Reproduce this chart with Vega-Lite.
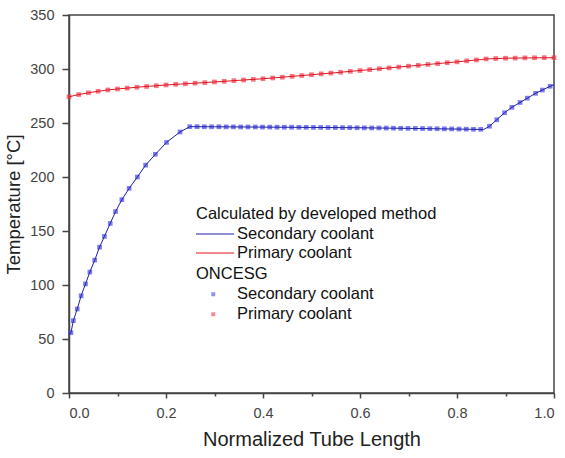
{
  "$schema": "https://vega.github.io/schema/vega-lite/v6.json",
  "width": 485,
  "height": 378,
  "autosize": {"type": "none"},
  "padding": {"left": 69, "top": 15, "right": 11, "bottom": 65},
  "background": "white",
  "datasets": {
    "calc": [
      {"x": 0.0, "t": 54.5, "series": "Secondary coolant"},
      {"x": 0.004, "t": 55.8, "series": "Secondary coolant"},
      {"x": 0.009, "t": 67, "series": "Secondary coolant"},
      {"x": 0.017, "t": 77.8, "series": "Secondary coolant"},
      {"x": 0.025, "t": 90, "series": "Secondary coolant"},
      {"x": 0.034, "t": 101, "series": "Secondary coolant"},
      {"x": 0.043, "t": 112, "series": "Secondary coolant"},
      {"x": 0.053, "t": 123, "series": "Secondary coolant"},
      {"x": 0.063, "t": 135, "series": "Secondary coolant"},
      {"x": 0.073, "t": 145, "series": "Secondary coolant"},
      {"x": 0.085, "t": 157, "series": "Secondary coolant"},
      {"x": 0.096, "t": 168, "series": "Secondary coolant"},
      {"x": 0.109, "t": 179, "series": "Secondary coolant"},
      {"x": 0.124, "t": 189.5, "series": "Secondary coolant"},
      {"x": 0.141, "t": 200, "series": "Secondary coolant"},
      {"x": 0.158, "t": 211, "series": "Secondary coolant"},
      {"x": 0.178, "t": 221, "series": "Secondary coolant"},
      {"x": 0.201, "t": 232, "series": "Secondary coolant"},
      {"x": 0.229, "t": 241.7, "series": "Secondary coolant"},
      {"x": 0.249, "t": 246.6, "series": "Secondary coolant"},
      {"x": 0.3, "t": 246.5, "series": "Secondary coolant"},
      {"x": 0.4, "t": 246.2, "series": "Secondary coolant"},
      {"x": 0.5, "t": 245.9, "series": "Secondary coolant"},
      {"x": 0.6, "t": 245.6, "series": "Secondary coolant"},
      {"x": 0.7, "t": 245.0, "series": "Secondary coolant"},
      {"x": 0.8, "t": 244.4, "series": "Secondary coolant"},
      {"x": 0.855, "t": 244.0, "series": "Secondary coolant"},
      {"x": 0.867, "t": 247, "series": "Secondary coolant"},
      {"x": 0.882, "t": 253, "series": "Secondary coolant"},
      {"x": 0.898, "t": 259.5, "series": "Secondary coolant"},
      {"x": 0.913, "t": 264.5, "series": "Secondary coolant"},
      {"x": 0.93, "t": 269, "series": "Secondary coolant"},
      {"x": 0.945, "t": 273, "series": "Secondary coolant"},
      {"x": 0.962, "t": 277.5, "series": "Secondary coolant"},
      {"x": 0.976, "t": 280.5, "series": "Secondary coolant"},
      {"x": 0.992, "t": 284, "series": "Secondary coolant"},
      {"x": 1.0, "t": 285.5, "series": "Secondary coolant"},
      {"x": 0.0, "t": 274.3, "series": "Primary coolant"},
      {"x": 0.02, "t": 276.3, "series": "Primary coolant"},
      {"x": 0.04, "t": 278.0, "series": "Primary coolant"},
      {"x": 0.06, "t": 279.4, "series": "Primary coolant"},
      {"x": 0.08, "t": 280.6, "series": "Primary coolant"},
      {"x": 0.1, "t": 281.5, "series": "Primary coolant"},
      {"x": 0.15, "t": 283.5, "series": "Primary coolant"},
      {"x": 0.2, "t": 285.2, "series": "Primary coolant"},
      {"x": 0.25, "t": 286.6, "series": "Primary coolant"},
      {"x": 0.3, "t": 288.0, "series": "Primary coolant"},
      {"x": 0.35, "t": 289.5, "series": "Primary coolant"},
      {"x": 0.4, "t": 291.0, "series": "Primary coolant"},
      {"x": 0.45, "t": 292.8, "series": "Primary coolant"},
      {"x": 0.5, "t": 294.7, "series": "Primary coolant"},
      {"x": 0.55, "t": 296.6, "series": "Primary coolant"},
      {"x": 0.6, "t": 298.6, "series": "Primary coolant"},
      {"x": 0.65, "t": 300.6, "series": "Primary coolant"},
      {"x": 0.7, "t": 302.6, "series": "Primary coolant"},
      {"x": 0.75, "t": 304.6, "series": "Primary coolant"},
      {"x": 0.8, "t": 306.6, "series": "Primary coolant"},
      {"x": 0.85, "t": 308.8, "series": "Primary coolant"},
      {"x": 0.86, "t": 309.3, "series": "Primary coolant"},
      {"x": 0.9, "t": 310.0, "series": "Primary coolant"},
      {"x": 0.95, "t": 310.3, "series": "Primary coolant"},
      {"x": 1.0, "t": 310.5, "series": "Primary coolant"}
    ],
    "exp": [
      {"x": 0.004, "t": 55.8, "coolant": "Secondary coolant"},
      {"x": 0.009, "t": 67, "coolant": "Secondary coolant"},
      {"x": 0.017, "t": 77.8, "coolant": "Secondary coolant"},
      {"x": 0.025, "t": 90, "coolant": "Secondary coolant"},
      {"x": 0.034, "t": 101, "coolant": "Secondary coolant"},
      {"x": 0.043, "t": 112, "coolant": "Secondary coolant"},
      {"x": 0.053, "t": 123, "coolant": "Secondary coolant"},
      {"x": 0.063, "t": 135, "coolant": "Secondary coolant"},
      {"x": 0.073, "t": 145, "coolant": "Secondary coolant"},
      {"x": 0.085, "t": 157, "coolant": "Secondary coolant"},
      {"x": 0.096, "t": 168, "coolant": "Secondary coolant"},
      {"x": 0.109, "t": 179, "coolant": "Secondary coolant"},
      {"x": 0.124, "t": 189.5, "coolant": "Secondary coolant"},
      {"x": 0.141, "t": 200, "coolant": "Secondary coolant"},
      {"x": 0.158, "t": 211, "coolant": "Secondary coolant"},
      {"x": 0.178, "t": 221, "coolant": "Secondary coolant"},
      {"x": 0.201, "t": 232, "coolant": "Secondary coolant"},
      {"x": 0.229, "t": 241.7, "coolant": "Secondary coolant"},
      {"x": 0.249, "t": 246.6, "coolant": "Secondary coolant"},
      {"x": 0.264, "t": 246.6, "coolant": "Secondary coolant"},
      {"x": 0.279, "t": 246.5, "coolant": "Secondary coolant"},
      {"x": 0.294, "t": 246.5, "coolant": "Secondary coolant"},
      {"x": 0.309, "t": 246.5, "coolant": "Secondary coolant"},
      {"x": 0.324, "t": 246.4, "coolant": "Secondary coolant"},
      {"x": 0.339, "t": 246.4, "coolant": "Secondary coolant"},
      {"x": 0.354, "t": 246.3, "coolant": "Secondary coolant"},
      {"x": 0.369, "t": 246.3, "coolant": "Secondary coolant"},
      {"x": 0.384, "t": 246.3, "coolant": "Secondary coolant"},
      {"x": 0.399, "t": 246.2, "coolant": "Secondary coolant"},
      {"x": 0.414, "t": 246.2, "coolant": "Secondary coolant"},
      {"x": 0.429, "t": 246.1, "coolant": "Secondary coolant"},
      {"x": 0.444, "t": 246.1, "coolant": "Secondary coolant"},
      {"x": 0.459, "t": 246.1, "coolant": "Secondary coolant"},
      {"x": 0.474, "t": 246.0, "coolant": "Secondary coolant"},
      {"x": 0.489, "t": 246.0, "coolant": "Secondary coolant"},
      {"x": 0.504, "t": 245.9, "coolant": "Secondary coolant"},
      {"x": 0.519, "t": 245.9, "coolant": "Secondary coolant"},
      {"x": 0.534, "t": 245.8, "coolant": "Secondary coolant"},
      {"x": 0.549, "t": 245.8, "coolant": "Secondary coolant"},
      {"x": 0.564, "t": 245.7, "coolant": "Secondary coolant"},
      {"x": 0.579, "t": 245.7, "coolant": "Secondary coolant"},
      {"x": 0.594, "t": 245.6, "coolant": "Secondary coolant"},
      {"x": 0.609, "t": 245.5, "coolant": "Secondary coolant"},
      {"x": 0.624, "t": 245.4, "coolant": "Secondary coolant"},
      {"x": 0.639, "t": 245.4, "coolant": "Secondary coolant"},
      {"x": 0.654, "t": 245.3, "coolant": "Secondary coolant"},
      {"x": 0.669, "t": 245.2, "coolant": "Secondary coolant"},
      {"x": 0.684, "t": 245.1, "coolant": "Secondary coolant"},
      {"x": 0.699, "t": 245.0, "coolant": "Secondary coolant"},
      {"x": 0.714, "t": 245.0, "coolant": "Secondary coolant"},
      {"x": 0.729, "t": 244.9, "coolant": "Secondary coolant"},
      {"x": 0.744, "t": 244.8, "coolant": "Secondary coolant"},
      {"x": 0.759, "t": 244.7, "coolant": "Secondary coolant"},
      {"x": 0.774, "t": 244.6, "coolant": "Secondary coolant"},
      {"x": 0.789, "t": 244.5, "coolant": "Secondary coolant"},
      {"x": 0.804, "t": 244.4, "coolant": "Secondary coolant"},
      {"x": 0.819, "t": 244.3, "coolant": "Secondary coolant"},
      {"x": 0.834, "t": 244.2, "coolant": "Secondary coolant"},
      {"x": 0.849, "t": 244.1, "coolant": "Secondary coolant"},
      {"x": 0.867, "t": 247, "coolant": "Secondary coolant"},
      {"x": 0.882, "t": 253, "coolant": "Secondary coolant"},
      {"x": 0.898, "t": 259.5, "coolant": "Secondary coolant"},
      {"x": 0.913, "t": 264.5, "coolant": "Secondary coolant"},
      {"x": 0.93, "t": 269, "coolant": "Secondary coolant"},
      {"x": 0.945, "t": 273, "coolant": "Secondary coolant"},
      {"x": 0.962, "t": 277.5, "coolant": "Secondary coolant"},
      {"x": 0.976, "t": 280.5, "coolant": "Secondary coolant"},
      {"x": 0.992, "t": 284, "coolant": "Secondary coolant"},
      {"x": 0.0, "t": 274.3, "coolant": "Primary coolant"},
      {"x": 0.02, "t": 276.3, "coolant": "Primary coolant"},
      {"x": 0.04, "t": 278.0, "coolant": "Primary coolant"},
      {"x": 0.06, "t": 279.4, "coolant": "Primary coolant"},
      {"x": 0.08, "t": 280.6, "coolant": "Primary coolant"},
      {"x": 0.1, "t": 281.5, "coolant": "Primary coolant"},
      {"x": 0.12, "t": 282.3, "coolant": "Primary coolant"},
      {"x": 0.14, "t": 283.1, "coolant": "Primary coolant"},
      {"x": 0.16, "t": 283.8, "coolant": "Primary coolant"},
      {"x": 0.18, "t": 284.5, "coolant": "Primary coolant"},
      {"x": 0.2, "t": 285.2, "coolant": "Primary coolant"},
      {"x": 0.22, "t": 285.8, "coolant": "Primary coolant"},
      {"x": 0.24, "t": 286.3, "coolant": "Primary coolant"},
      {"x": 0.26, "t": 286.9, "coolant": "Primary coolant"},
      {"x": 0.28, "t": 287.4, "coolant": "Primary coolant"},
      {"x": 0.3, "t": 288.0, "coolant": "Primary coolant"},
      {"x": 0.32, "t": 288.6, "coolant": "Primary coolant"},
      {"x": 0.34, "t": 289.2, "coolant": "Primary coolant"},
      {"x": 0.36, "t": 289.8, "coolant": "Primary coolant"},
      {"x": 0.38, "t": 290.4, "coolant": "Primary coolant"},
      {"x": 0.4, "t": 291.0, "coolant": "Primary coolant"},
      {"x": 0.42, "t": 291.7, "coolant": "Primary coolant"},
      {"x": 0.44, "t": 292.4, "coolant": "Primary coolant"},
      {"x": 0.46, "t": 293.2, "coolant": "Primary coolant"},
      {"x": 0.48, "t": 293.9, "coolant": "Primary coolant"},
      {"x": 0.5, "t": 294.7, "coolant": "Primary coolant"},
      {"x": 0.52, "t": 295.5, "coolant": "Primary coolant"},
      {"x": 0.54, "t": 296.2, "coolant": "Primary coolant"},
      {"x": 0.56, "t": 297.0, "coolant": "Primary coolant"},
      {"x": 0.58, "t": 297.8, "coolant": "Primary coolant"},
      {"x": 0.6, "t": 298.6, "coolant": "Primary coolant"},
      {"x": 0.62, "t": 299.4, "coolant": "Primary coolant"},
      {"x": 0.64, "t": 300.2, "coolant": "Primary coolant"},
      {"x": 0.66, "t": 301.0, "coolant": "Primary coolant"},
      {"x": 0.68, "t": 301.8, "coolant": "Primary coolant"},
      {"x": 0.7, "t": 302.6, "coolant": "Primary coolant"},
      {"x": 0.72, "t": 303.4, "coolant": "Primary coolant"},
      {"x": 0.74, "t": 304.2, "coolant": "Primary coolant"},
      {"x": 0.76, "t": 305.0, "coolant": "Primary coolant"},
      {"x": 0.78, "t": 305.8, "coolant": "Primary coolant"},
      {"x": 0.8, "t": 306.6, "coolant": "Primary coolant"},
      {"x": 0.82, "t": 307.5, "coolant": "Primary coolant"},
      {"x": 0.84, "t": 308.4, "coolant": "Primary coolant"},
      {"x": 0.86, "t": 309.3, "coolant": "Primary coolant"},
      {"x": 0.88, "t": 309.7, "coolant": "Primary coolant"},
      {"x": 0.9, "t": 310.0, "coolant": "Primary coolant"},
      {"x": 0.92, "t": 310.1, "coolant": "Primary coolant"},
      {"x": 0.94, "t": 310.3, "coolant": "Primary coolant"},
      {"x": 0.96, "t": 310.4, "coolant": "Primary coolant"},
      {"x": 0.98, "t": 310.5, "coolant": "Primary coolant"},
      {"x": 1.0, "t": 310.5, "coolant": "Primary coolant"}
    ]
  },
  "layer": [
    {
      "data": {"name": "exp"},
      "mark": {"type": "point", "shape": "square", "filled": true, "size": 22, "opacity": 0.7},
      "encoding": {
        "x": {
          "field": "x", "type": "quantitative",
          "scale": {"domain": [0, 1], "nice": false, "zero": false},
          "axis": {
            "title": "Normalized Tube Length",
            "titleFontSize": 20,
            "values": [0, 0.1, 0.2, 0.3, 0.4, 0.5, 0.6, 0.7, 0.8, 0.9, 1.0],
            "labelExpr": "round(datum.value*10) % 2 === 0 ? format(datum.value, '.1f') : ''",
            "tickSize": {"condition": {"test": "round(datum.value*10) % 2 === 1", "value": 3}, "value": 5},
            "labelPadding": 8,
            "titlePadding": 10
          }
        },
        "y": {
          "field": "t", "type": "quantitative",
          "scale": {"domain": [0, 350], "nice": false},
          "axis": {
            "title": "Temperature [°C]",
            "titleFontSize": 18.5,
            "values": [0, 25, 50, 75, 100, 125, 150, 175, 200, 225, 250, 275, 300, 325, 350],
            "labelExpr": "datum.value % 50 === 0 ? datum.label : ''",
            "tickSize": {"condition": {"test": "datum.value % 50 !== 0", "value": 3}, "value": 7},
            "labelPadding": 8,
            "titlePadding": 6
          }
        },
        "fill": {
          "field": "coolant", "type": "nominal",
          "sort": ["Secondary coolant", "Primary coolant"],
          "scale": {"range": ["#4646e6", "#f03a4e"]},
          "legend": {
            "title": "ONCESG",
            "orient": "none",
            "legendX": 127,
            "legendY": 250.5,
            "symbolType": "square",
            "symbolSize": 16,
            "symbolOpacity": 0.6,
            "symbolStrokeWidth": 0,
            "symbolOffset": 9,
            "labelOffset": 15.5,
            "titlePadding": 4,
            "rowPadding": 3
          }
        }
      }
    },
    {
      "data": {"name": "calc"},
      "mark": {"type": "line", "strokeWidth": 1},
      "encoding": {
        "x": {"field": "x", "type": "quantitative"},
        "y": {"field": "t", "type": "quantitative"},
        "stroke": {
          "field": "series", "type": "nominal",
          "sort": ["Secondary coolant", "Primary coolant"],
          "scale": {"range": ["#2020a8", "#e0141e"]},
          "legend": {
            "title": "Calculated by developed method",
            "titleLimit": 500,
            "orient": "none",
            "legendX": 127,
            "legendY": 190.5,
            "symbolType": "M-2,0H2",
            "symbolSize": 361,
            "symbolStrokeWidth": 1,
            "symbolFillColor": "transparent",
            "symbolOffset": 9,
            "labelOffset": 12,
            "titlePadding": 2,
            "rowPadding": 0
          }
        }
      }
    }
  ],
  "config": {
    "view": {"stroke": "#444", "strokeWidth": 1.5},
    "axis": {
      "grid": false,
      "domainColor": "#444",
      "domainWidth": 1.5,
      "tickColor": "#444",
      "tickWidth": 1.5,
      "labelColor": "#444",
      "labelFont": "Liberation Sans",
      "labelFontSize": 14.5,
      "titleFont": "Liberation Sans",
      "titleFontSize": 18,
      "titleFontWeight": "normal",
      "titleColor": "#222"
    },
    "legend": {
      "titleFont": "Liberation Sans",
      "titleFontSize": 16.5,
      "titleFontWeight": "normal",
      "titleColor": "#111",
      "titleLimit": 500,
      "labelFont": "Liberation Sans",
      "labelFontSize": 16.5,
      "labelColor": "#111",
      "padding": 0
    }
  }
}
